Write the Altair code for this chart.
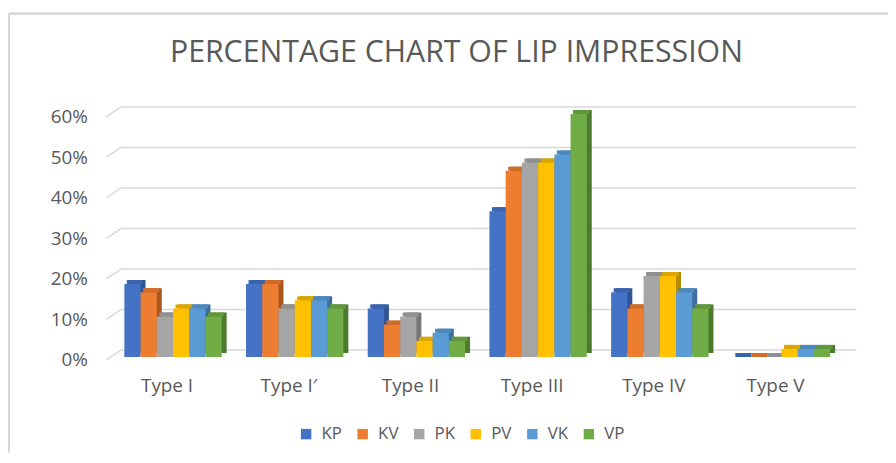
import altair as alt
import pandas as pd

categories = ["Type I", "Type I\u2032", "Type II", "Type III", "Type IV", "Type V"]
series = ["KP", "KV", "PK", "PV", "VK", "VP"]
KP = [0.18, 0.18, 0.12, 0.36, 0.16, 0.00]
KV = [0.16, 0.18, 0.08, 0.46, 0.12, 0.00]
PK = [0.10, 0.12, 0.10, 0.48, 0.20, 0.00]
PV = [0.12, 0.14, 0.04, 0.48, 0.20, 0.02]
VK = [0.12, 0.14, 0.06, 0.50, 0.16, 0.02]
VP = [0.10, 0.12, 0.04, 0.60, 0.12, 0.02]
tick_values = [0.0, 0.1, 0.2, 0.3, 0.4, 0.5, 0.6]
title_text = "PERCENTAGE CHART OF LIP IMPRESSION"

front_colors = ["#4472C4", "#ED7D31", "#A5A5A5", "#FFC000", "#5B9BD5", "#70AD47"]
top_colors = ["#3A63AE", "#D26C26", "#909090", "#DCA600", "#4C88BE", "#5F973B"]
side_colors = ["#2F5597", "#A9561E", "#767676", "#B58B00", "#3E6F9C", "#4E7A30"]

values = {"KP": KP, "KV": KV, "PK": PK, "PV": PV, "VK": VK, "VP": VP}
rows = []
for s in series:
    for c, v in zip(categories, values[s]):
        rows.append({"type": c, "series": s, "value": v})
df = pd.DataFrame(rows)
grid_df = pd.DataFrame({"v": tick_values})

W, H = 736, 245
FONT = "Open Sans"
GRAY = "#595959"
GRID = "#D9D9D9"

yscale = alt.Scale(domain=[0, 0.6], nice=False, zero=True)
offscale = alt.Scale(domain=series, paddingInner=0, paddingOuter=0)

yaxis = alt.Axis(title=None, values=tick_values, format=".0%", domain=False, ticks=False,
                 grid=False, labelFont=FONT, labelFontSize=19, labelColor=GRAY,
                 labelPadding=19, labelOffset=3)


def xscale(shift):
    return alt.Scale(domain=categories, paddingInner=0.2, paddingOuter=0.1,
                     range=[shift, W + shift])


grid = alt.Chart(grid_df).mark_rule(color=GRID, strokeWidth=1.5, yOffset=-7).encode(
    y=alt.Y("v:Q", scale=yscale, axis=yaxis),
    x=alt.value(15), x2=alt.value(W + 20),
)
slant = alt.Chart(grid_df).mark_rule(color=GRID, strokeWidth=1.5, yOffset=3, y2Offset=-7).encode(
    y=alt.Y("v:Q", scale=yscale, axis=yaxis),
    y2=alt.Y2("v"),
    x=alt.value(0), x2=alt.value(15),
)

xo = alt.XOffset("series:N", sort=series, scale=offscale)

side = alt.Chart(df).mark_bar(yOffset=-4, y2Offset=-4).encode(
    x=alt.X("type:N", sort=categories, scale=xscale(11), axis=None), xOffset=xo,
    y=alt.Y("value:Q", scale=yscale, axis=yaxis),
    color=alt.Color("series:N", scale=alt.Scale(domain=series, range=side_colors), legend=None),
)
top = alt.Chart(df).mark_bar(y2Offset=-4).encode(
    x=alt.X("type:N", sort=categories, scale=xscale(8.5), axis=None), xOffset=xo,
    y=alt.Y("value:Q", scale=yscale, axis=yaxis),
    y2=alt.Y2("value"),
    color=alt.Color("series:N", scale=alt.Scale(domain=series, range=top_colors), legend=None),
)
front = alt.Chart(df).mark_bar().encode(
    x=alt.X("type:N", sort=categories, scale=xscale(6),
            axis=alt.Axis(title=None, labelAngle=0, domain=False, ticks=False, labelFont=FONT,
                          labelFontSize=19, labelColor=GRAY, labelPadding=20, labelOffset=-6)),
    xOffset=xo,
    y=alt.Y("value:Q", scale=yscale, axis=yaxis),
    color=alt.Color("series:N", sort=series,
                    scale=alt.Scale(domain=series, range=front_colors),
                    legend=alt.Legend(title=None, orient="none", direction="horizontal",
                                      legendX=193, legendY=314, symbolType="square",
                                      symbolSize=110, symbolStrokeWidth=0, labelFont=FONT,
                                      labelFontSize=17, labelColor=GRAY, labelOffset=7,
                                      columnPadding=12)),
)

title = alt.Chart(pd.DataFrame({"t": [title_text]})).mark_text(
    font=FONT, fontSize=30.5, color=GRAY, align="center", baseline="alphabetic"
).encode(text="t:N", x=alt.value(353), y=alt.value(-52))

border_left = alt.Chart(grid_df).mark_rule(color=GRID, strokeWidth=2).encode(
    x=alt.value(-98), y=alt.value(-101), y2=alt.value(600))
border_top = alt.Chart(grid_df).mark_rule(color=GRID, strokeWidth=2).encode(
    x=alt.value(-98), x2=alt.value(1200), y=alt.value(-101))

chart = alt.layer(border_left, border_top, grid, slant, side, top, front, title).resolve_scale(
    color="independent", x="independent", xOffset="independent"
).resolve_axis(x="independent").properties(
    width=W, height=H,
    autosize=alt.AutoSizeParams(type="none"),
    padding={"left": 99, "top": 105, "right": 52, "bottom": 95},
).configure(background="white", view=alt.ViewConfig(stroke=None))

chart.save("out.html", embed_options={"renderer": "svg", "actions": False})
